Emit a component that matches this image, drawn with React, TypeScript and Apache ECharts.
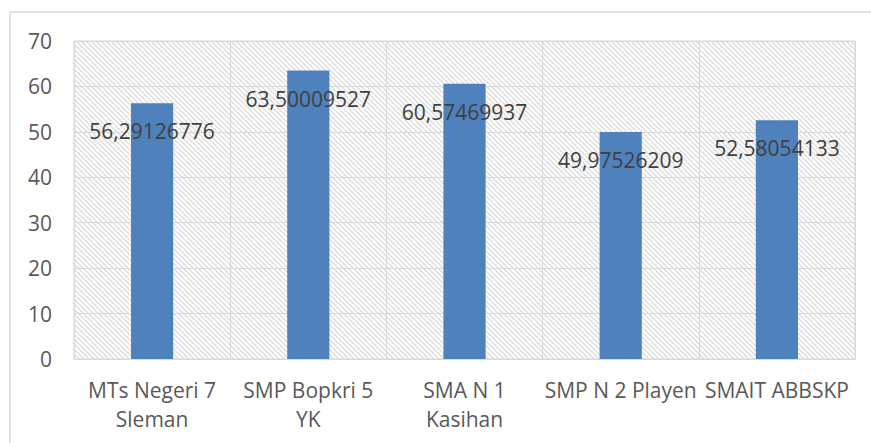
import React, { useEffect, useRef } from "react";
import * as echarts from "echarts";

const categories = [
  "MTs Negeri 7\nSleman",
  "SMP Bopkri 5\nYK",
  "SMA N 1\nKasihan",
  "SMP N 2 Playen",
  "SMAIT ABBSKP",
];
const values = [56.29126776, 63.50009527, 60.57469937, 49.97526209, 52.58054133];
const yTicks = { min: 0, max: 70, interval: 10 };

const hatchSvg =
  '<svg xmlns="http://www.w3.org/2000/svg" width="5" height="5">' +
  '<g stroke="#dcdcdc" stroke-width="1.3">' +
  '<line x1="0" y1="0" x2="5" y2="5"/>' +
  '<line x1="-1" y1="4" x2="1" y2="6"/>' +
  '<line x1="4" y1="-1" x2="6" y2="1"/>' +
  "</g></svg>";
const hatchUrl = "data:image/svg+xml;charset=utf-8," + encodeURIComponent(hatchSvg);

export default function App() {
  const ref = useRef<HTMLDivElement>(null);
  useEffect(() => {
    document.body.style.margin = "0";
    if (!ref.current) return;
    const chart = echarts.init(ref.current, null, { renderer: "svg" });
    const font = "'Open Sans', sans-serif";
    chart.setOption({
      animation: false,
      backgroundColor: "#ffffff",
      graphic: [
        {
          type: "rect",
          shape: { x: 10, y: 12, width: 900, height: 500 },
          style: { fill: "none", stroke: "#d9d9d9", lineWidth: 1.5 },
          silent: true,
        },
      ],
      grid: {
        left: 74,
        top: 41,
        width: 781,
        height: 318,
        show: true,
        borderColor: "#d9d9d9",
        borderWidth: 1,
        backgroundColor: {
          image: hatchUrl,
          repeat: "repeat",
          imageWidth: 5,
          imageHeight: 5,
        },
      },
      xAxis: {
        type: "category",
        data: categories,
        axisLine: { show: true, lineStyle: { color: "#d9d9d9", width: 1 } },
        axisTick: { show: false },
        splitLine: { show: true, lineStyle: { color: "#d9d9d9", width: 1 } },
        axisLabel: {
          color: "#595959",
          fontFamily: font,
          fontSize: 21,
          lineHeight: 29,
          margin: 16,
          interval: 0,
        },
      },
      yAxis: {
        type: "value",
        min: yTicks.min,
        max: yTicks.max,
        interval: yTicks.interval,
        axisLine: { show: false },
        axisTick: { show: false },
        splitLine: { show: true, lineStyle: { color: "#d9d9d9", width: 1 } },
        axisLabel: {
          color: "#595959",
          fontFamily: font,
          fontSize: 21,
          margin: 22,
        },
      },
      series: [
        {
          type: "bar",
          data: values,
          barWidth: "27%",
          itemStyle: { color: "#4f81bd" },
          label: {
            show: true,
            position: "insideTop",
            distance: 16,
            color: "#404040",
            fontFamily: font,
            fontSize: 21,
            lineHeight: 24,
            formatter: (p: any) => String(p.value).replace(".", ","),
          },
        },
      ],
    });
    return () => chart.dispose();
  }, []);
  return <div ref={ref} style={{ width: 871, height: 443 }} />;
}
